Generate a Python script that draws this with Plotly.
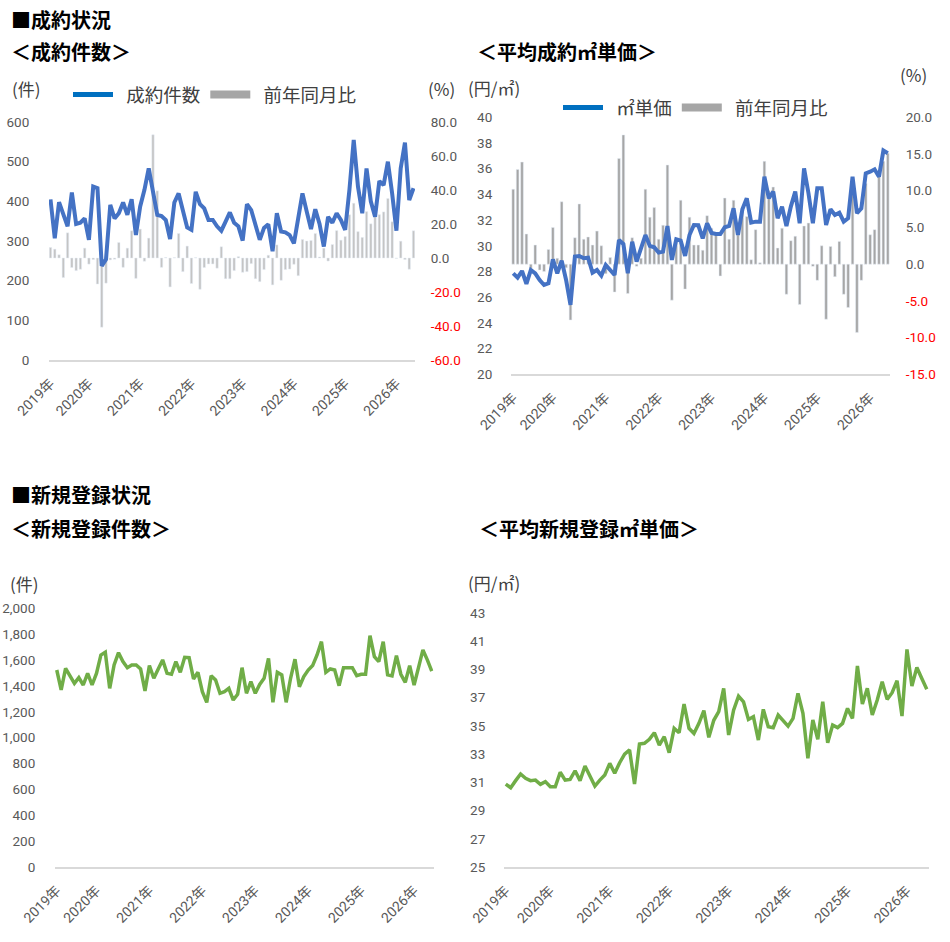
import plotly.graph_objects as go

W, H = 950, 942

# 成約件数（件）/ 前年同月比（%）
contract_count = [405, 307, 398, 370, 337, 422, 343, 346, 357, 303,
                  437, 433, 237, 254, 391, 357, 370, 397, 366, 405,
                  315, 387, 429, 483, 420, 366, 363, 353, 305, 397,
                  420, 376, 334, 328, 424, 393, 382, 353, 353, 337,
                  326, 349, 372, 346, 337, 301, 393, 378, 343, 303,
                  333, 342, 274, 370, 324, 322, 315, 294, 357, 420,
                  374, 330, 380, 343, 286, 361, 346, 370, 353, 328,
                  429, 555, 437, 370, 483, 400, 361, 451, 441, 500,
                  420, 326, 483, 548, 403, 433]
contract_count_yoy = [6.2, 5.2, 1.9, -11.5, 14.8, -5.6, -7.4, -6.6, 5.8, -3.6,
                      -0.9, -15.3, -40.7, -14.8, -1.1, -0.7, 9.1, -5.5, 5.8, 16.0,
                      -12.0, 17.0, -1.9, 11.7, 72.5, 39.5, -5.5, 0.3, -17.0, 0.2,
                      14.4, -8.0, 7.0, -15.0, 0.2, -18.4, -5.6, -3.5, -3.5, -6.0,
                      6.6, -12.2, -12.2, -7.4, 0.8, -8.4, -8.0, -3.3, -12.2, -13.9,
                      -6.8, 1.6, -15.8, 7.7, -13.1, -6.8, -6.5, -3.7, -10.4, 10.9,
                      10.0, 10.3, 14.4, 0.6, 5.8, -1.8, 7.9, 16.1, 10.5, 12.6,
                      25.4, 32.2, 15.5, 12.1, 27.3, 20.1, 24.3, 25.5, 27.1, 35.0,
                      21.3, -0.2, 9.9, -0.9, -6.6, 16.0]

# 平均成約㎡単価（円/㎡）/ 前年同月比（%）
contract_price = [27.86, 27.52, 28.04, 27.03, 28.12, 27.86, 27.34, 26.95, 27.08, 28.95,
                  27.86, 28.85, 27.34, 25.40, 29.16, 29.21, 29.03, 29.08, 27.91, 28.12,
                  27.68, 28.51, 28.12, 27.73, 30.45, 30.14, 27.86, 30.32, 28.77, 29.81,
                  30.84, 29.99, 29.88, 29.47, 29.55, 31.54, 28.90, 30.51, 30.40, 29.21,
                  30.84, 31.62, 31.60, 30.58, 31.75, 31.00, 30.92, 30.92, 31.44, 31.54,
                  32.92, 30.84, 32.84, 33.70, 31.80, 31.88, 31.88, 35.38, 33.70, 34.22,
                  32.14, 33.05, 31.54, 33.05, 34.22, 31.75, 36.03, 34.09, 31.75, 34.47,
                  34.47, 31.62, 32.84, 32.40, 32.58, 31.88, 32.14, 35.38, 32.53, 32.92,
                  35.64, 35.77, 35.95, 35.38, 37.41, 37.20]
contract_price_yoy = [10.2, 12.9, 13.9, 4.1, -0.6, 2.6, -0.8, -1.0, 2.0, 5.0,
                      0.8, 8.5, -0.5, -7.6, 3.6, 8.2, 3.4, 3.7, 2.6, 4.5,
                      2.5, -1.3, 0.9, -3.8, 14.4, 17.6, -4.0, 3.6, -0.3, 0.8,
                      10.2, 6.4, 7.7, 3.4, 5.3, 13.5, -4.9, 3.5, 8.7, -3.4,
                      6.4, 2.6, 2.6, 1.9, 6.6, 4.9, 4.3, -1.6, 9.0, 3.4,
                      8.7, 4.0, 7.6, 6.5, 0.6, 4.7, 0.2, 14.0, 10.0, 10.5,
                      2.2, 4.9, -4.1, 3.2, 3.8, -5.5, 5.2, 5.6, -0.3, -2.2,
                      2.5, -7.5, 2.4, -1.7, 3.1, -4.1, -5.9, 11.0, -9.3, -2.2,
                      11.0, 4.0, 4.7, 12.0, 14.0, 15.1]

# 新規登録件数（件）
new_count = [1523, 1369, 1536, 1472, 1420, 1464, 1407, 1497, 1407, 1497,
             1639, 1660, 1381, 1562, 1657, 1588, 1541, 1562, 1562, 1531,
             1361, 1557, 1459, 1531, 1601, 1497, 1490, 1588, 1505, 1621,
             1619, 1454, 1505, 1356, 1273, 1479, 1446, 1343, 1356, 1381,
             1291, 1335, 1541, 1343, 1433, 1343, 1412, 1459, 1613, 1273,
             1505, 1485, 1273, 1459, 1606, 1394, 1472, 1523, 1557, 1639,
             1742, 1505, 1531, 1523, 1402, 1541, 1541, 1541, 1479, 1490,
             1490, 1789, 1626, 1588, 1742, 1485, 1477, 1634, 1490, 1428,
             1557, 1407, 1541, 1678, 1601, 1515]

# 平均新規登録㎡単価（円/㎡）
new_price = [30.89, 30.63, 31.13, 31.60, 31.29, 31.13, 31.17, 30.87, 31.06, 30.70,
             30.70, 31.72, 31.17, 31.22, 31.83, 31.13, 32.16, 31.41, 30.75, 31.17,
             31.53, 32.35, 31.65, 32.40, 33.01, 33.30, 30.89, 33.72, 33.77, 34.05,
             34.52, 33.65, 34.24, 33.11, 34.83, 34.52, 36.55, 34.83, 34.47, 35.18,
             36.08, 34.19, 35.40, 36.01, 37.66, 34.36, 36.12, 37.11, 36.71, 35.46,
             35.65, 34.00, 36.17, 34.95, 34.88, 35.77, 35.42, 34.99, 35.53, 37.30,
             35.89, 32.71, 35.42, 34.05, 36.71, 33.81, 35.06, 34.88, 35.18, 36.24,
             35.53, 39.24, 36.55, 37.66, 35.77, 36.83, 38.13, 36.88, 37.35, 38.20,
             35.70, 40.41, 37.82, 39.14, 38.36, 37.59]

year_labels = ["2019年", "2020年", "2021年", "2022年", "2023年", "2024年", "2025年", "2026年"]
year_pos = [0, 9, 21, 33, 45, 57, 69, 81]

months = list(range(len(contract_count)))

JP = "Noto Sans CJK JP"
NUM = "Roboto, Noto Sans CJK JP"
TICK_GREY = "#595959"
BLUE = "#4472C4"
GREEN = "#70AD47"
GAP = "\u00a0\u00a0"  # a little air between legend sample and label


def fx(px):
    return px / W


def fy(py):
    return 1 - py / H


def pct_ticks(lo, hi, step):
    vals, text = [], []
    v = lo
    while v <= hi + 1e-9:
        vals.append(v)
        s = f"{v:.1f}"
        text.append(f'<span style="color:#FF0000">{s}</span>' if v < 0 else s)
        v += step
    return vals, text


fig = go.Figure()

# --- 成約件数 ---
fig.add_trace(go.Bar(x=months, y=contract_count_yoy, marker_color="#C4C4C4",
                     width=0.55, xaxis="x", yaxis="y", showlegend=False))
fig.add_trace(go.Scatter(x=months, y=contract_count, mode="lines",
                         line=dict(color=BLUE, width=4), xaxis="x", yaxis="y2",
                         showlegend=False))
fig.add_trace(go.Scatter(x=[None], y=[None], mode="lines", name=GAP + "成約件数",
                         line=dict(color="#0070C0", width=5), xaxis="x", yaxis="y2",
                         legend="legend"))
fig.add_trace(go.Scatter(x=[None], y=[None], mode="lines", name=GAP + "前年同月比",
                         line=dict(color="#A6A6A6", width=8), xaxis="x", yaxis="y2",
                         legend="legend"))

# --- 平均成約㎡単価 ---
fig.add_trace(go.Bar(x=months, y=contract_price_yoy, marker_color="#A6A6A6",
                     width=0.6, xaxis="x2", yaxis="y3", showlegend=False))
fig.add_trace(go.Scatter(x=months, y=contract_price, mode="lines",
                         line=dict(color=BLUE, width=4), xaxis="x2", yaxis="y4",
                         showlegend=False))
fig.add_trace(go.Scatter(x=[None], y=[None], mode="lines", name=GAP + "㎡単価",
                         line=dict(color="#0070C0", width=5), xaxis="x2", yaxis="y4",
                         legend="legend2"))
fig.add_trace(go.Scatter(x=[None], y=[None], mode="lines", name=GAP + "前年同月比",
                         line=dict(color="#A6A6A6", width=8), xaxis="x2", yaxis="y4",
                         legend="legend2"))

# --- 新規登録件数 ---
fig.add_trace(go.Scatter(x=months, y=new_count, mode="lines",
                         line=dict(color=GREEN, width=3.5), xaxis="x3", yaxis="y5",
                         showlegend=False))

# --- 平均新規登録㎡単価 ---
fig.add_trace(go.Scatter(x=months, y=new_price, mode="lines",
                         line=dict(color=GREEN, width=3.5), xaxis="x4", yaxis="y6",
                         showlegend=False))

xcommon = dict(tickvals=year_pos, ticktext=year_labels, tickangle=-45,
               showgrid=False, zeroline=False, showline=True, linecolor="#D9D9D9",
               linewidth=1.5, ticks="outside", ticklen=8, tickcolor="rgba(0,0,0,0)",
               tickfont=dict(family=NUM, size=14, color=TICK_GREY), fixedrange=True,
               automargin=False)
ycommon = dict(showgrid=False, zeroline=False, showline=False, ticks="outside",
               tickcolor="rgba(0,0,0,0)", tickfont=dict(family=NUM, size=13.5, color=TICK_GREY),
               fixedrange=True, automargin=False)

p1_vals, p1_text = pct_ticks(-60, 80, 20)
p2_vals, p2_text = pct_ticks(-15, 20, 5)

legend_font = dict(family=JP, size=18.5, color="#404040")

fig.update_layout(
    width=W, height=H,
    margin=dict(l=0, r=0, t=0, b=0, autoexpand=False),
    paper_bgcolor="white", plot_bgcolor="rgba(0,0,0,0)",
    showlegend=True,
    xaxis=dict(domain=[fx(49), fx(415)], range=[-0.35, 85.35], anchor="y", **xcommon),
    yaxis=dict(domain=[fy(360), fy(122)], range=[-60, 80], side="right", anchor="x",
               tickvals=p1_vals, ticktext=p1_text, ticklen=12, **ycommon),
    yaxis2=dict(range=[0, 600], dtick=100, overlaying="y", side="left", anchor="x",
                ticklen=16, **ycommon),
    xaxis2=dict(domain=[fx(511), fx(890)], range=[-0.5, 85.5], anchor="y3", **xcommon),
    yaxis3=dict(domain=[fy(374.3), fy(117.3)], range=[-15, 20], side="right", anchor="x2",
                tickvals=p2_vals, ticktext=p2_text, ticklen=12, **ycommon),
    yaxis4=dict(range=[20, 40], dtick=2, tick0=20, overlaying="y3", side="left", anchor="x2",
                ticklen=15, **ycommon),
    xaxis3=dict(domain=[fx(55), fx(433.5)], range=[-0.4, 85.4], anchor="y5", **xcommon),
    yaxis5=dict(domain=[fy(867), fy(608.3)], range=[0, 2000], dtick=200, tickformat=",",
                anchor="x3", ticklen=16, **ycommon),
    xaxis4=dict(domain=[fx(504), fx(929)], range=[-0.35, 85.45], anchor="y6", **xcommon),
    yaxis6=dict(domain=[fy(867.3), fy(612.7)], range=[25, 43.01], dtick=2, tick0=25,
                anchor="x4", ticklen=15, **ycommon),
    legend=dict(orientation="h", x=fx(68), y=fy(95), xanchor="left", yanchor="middle",
                font=legend_font, bgcolor="rgba(0,0,0,0)", itemwidth=40),
    legend2=dict(orientation="h", x=fx(558), y=fy(108), xanchor="left", yanchor="middle",
                 font=legend_font, bgcolor="rgba(0,0,0,0)", itemwidth=40),
)

titles = [
    ("<b>■成約状況</b>", 9, 20),
    ("<b>＜成約件数＞</b>", 9, 52),
    ("<b>＜平均成約㎡単価＞</b>", 475, 52),
    ("<b>■新規登録状況</b>", 9, 494),
    ("<b>＜新規登録件数＞</b>", 9, 528),
    ("<b>＜平均新規登録㎡単価＞</b>", 477, 528),
]
for text, x, y in titles:
    fig.add_annotation(text=text, x=fx(x), y=fy(y), xref="paper", yref="paper",
                       xanchor="left", yanchor="middle", showarrow=False,
                       font=dict(family=JP, size=20, color="black"))

units = [
    ("(件)", 10, 89),
    ("(%)", 426, 89),
    ("(円/㎡)", 466, 88),
    ("(%)", 898, 75),
    ("(件)", 8, 583),
    ("(円/㎡)", 466, 582),
]
for text, x, y in units:
    fig.add_annotation(text=text, x=fx(x), y=fy(y), xref="paper", yref="paper",
                       xanchor="left", yanchor="middle", showarrow=False,
                       font=dict(family=JP, size=17, color="#404040"))

fig.write_html("out.html", config={"displayModeBar": False},
               post_script="document.body.style.margin='0';")
